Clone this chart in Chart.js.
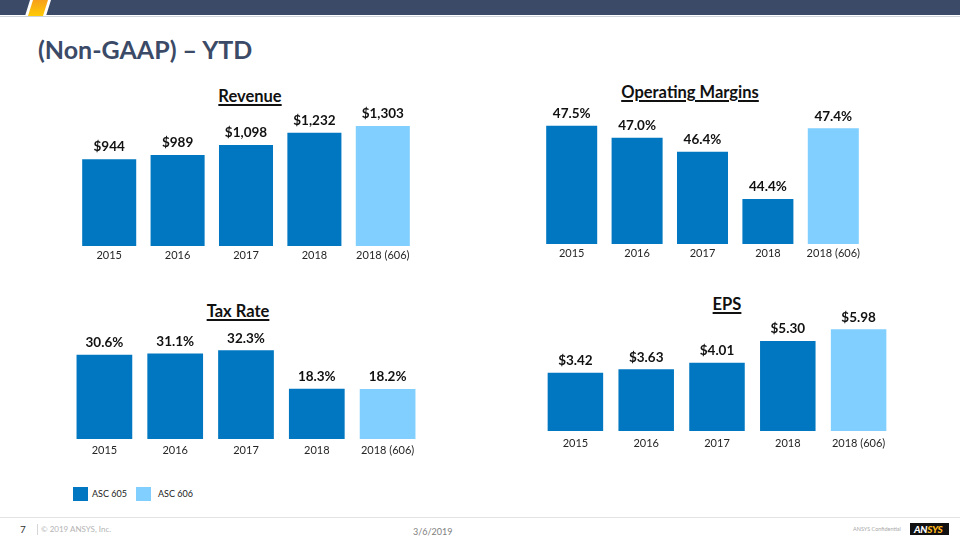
<!DOCTYPE html>
<html>
<head>
<meta charset="utf-8">
<script src="https://cdn.jsdelivr.net/npm/chart.js@4.4.1/dist/chart.umd.min.js"></script>
<style>
  html, body { margin: 0; padding: 0; background: #fff; }
  #slide { position: relative; width: 960px; height: 540px; overflow: hidden; background: #fff; font-family: Lato, "Open Sans", sans-serif; }
  .abs { position: absolute; }
  .topbar { left: 0; top: 0; width: 960px; height: 15px; background: #3B4A66; }
  .topline { left: 0; top: 16px; width: 960px; height: 1px; background: #cfd3da; }
  .gap { left: 0; top: 0; width: 960px; height: 16px; background: #fff; clip-path: polygon(30px 0, 51px 0, 46px 16px, 25px 16px); }
  .stripe { left: 0; top: 0; width: 960px; height: 16px; background: linear-gradient(to top, #FFCB05, #F6A01A); clip-path: polygon(33px 0, 48px 0, 43px 16px, 28px 16px); }
  .title { left: 38px; top: 37px; font-size: 25px; line-height: 25px; font-weight: 700; color: #3B4A66; white-space: nowrap; }
  .ctitle { font-size: 16.5px; line-height: 16px; font-weight: 700; color: #111; text-decoration: underline; text-decoration-thickness: 1.5px; text-underline-offset: 2px; white-space: nowrap; transform: translateX(-50%); }
  canvas.abs { display: block; }
  .legsq { width: 15px; height: 14px; }
  .legtx { font-size: 9px; line-height: 10px; color: #222; white-space: nowrap; }
  .footline { left: 0; top: 517px; width: 960px; height: 1px; background: #e3e3e3; }
</style>
</head>
<body>
<div id="slide">
  <div class="abs topbar"></div>
  <div class="abs topline"></div>
  <div class="abs gap"></div>
  <div class="abs stripe"></div>
  <div class="abs title">(Non-GAAP) – YTD</div>

  <div class="abs ctitle" style="left:250px; top:88px;">Revenue</div>
  <div class="abs ctitle" style="left:690px; top:84px;">Operating Margins</div>
  <div class="abs ctitle" style="left:238px; top:303px;">Tax Rate</div>
  <div class="abs ctitle" style="left:727px; top:296px;">EPS</div>

  <canvas id="cRev" class="abs" width="342" height="180" style="left:75px; top:90px;"></canvas>
  <canvas id="cOpm" class="abs" width="327" height="173" style="left:539px; top:95px;"></canvas>
  <canvas id="cTax" class="abs" width="354" height="151" style="left:69px; top:312px;"></canvas>
  <canvas id="cEps" class="abs" width="354" height="160" style="left:540px; top:295px;"></canvas>

  <div id="legend"></div>

  <div class="abs footline"></div>
  <div class="abs" style="left:20px; top:523px; font-size:10px; line-height:12px; color:#333;">7</div>
  <div class="abs" style="left:37px; top:524px; width:1px; height:11px; background:#d6d6d6;"></div>
  <div class="abs" style="left:41px; top:524px; font-size:8px; line-height:10px; color:#b4b4b4; white-space:nowrap;">© 2019 ANSYS, Inc.</div>
  <div class="abs" style="left:413px; top:526px; font-size:9px; line-height:12px; color:#808080;">3/6/2019</div>
  <div class="abs" style="left:853px; top:525px; font-size:5.5px; line-height:8px; color:#a8a8a8; white-space:nowrap;">ANSYS Confidential</div>
  <div class="abs" style="left:910px; top:523px; width:39px; height:12px; background:#111;"></div>
  <div class="abs" style="left:914px; top:523px; font-size:10px; line-height:12px; font-weight:900; font-style:italic; letter-spacing:-0.3px; white-space:nowrap;"><span style="color:#fff;">AN</span><span style="color:#FFB71B;">SYS</span></div>
</div>

<script>
// ---- data ----
const categories = ['2015', '2016', '2017', '2018', '2018 (606)'];
const standards = ['ASC 605', 'ASC 605', 'ASC 605', 'ASC 605', 'ASC 606'];
const revenue = [944, 989, 1098, 1232, 1303];
const operatingMargin = [47.5, 47.0, 46.4, 44.4, 47.4];
const taxRate = [30.6, 31.1, 32.3, 18.3, 18.2];
const eps = [3.42, 3.63, 4.01, 5.30, 5.98];
const legendItems = ['ASC 605', 'ASC 606'];

// ---- styles ----
const standardColors = { 'ASC 605': '#0077C0', 'ASC 606': '#80CFFF' };
const barColors = standards.map(s => standardColors[s]);

function valueLabelPlugin(fmt, offset) {
  return {
    id: 'valueLabels',
    afterDatasetsDraw(chart) {
      const ctx = chart.ctx;
      chart.data.datasets.forEach((ds, di) => {
        const meta = chart.getDatasetMeta(di);
        meta.data.forEach((bar, i) => {
          const v = ds.data[i];
          if (v == null) return;
          ctx.save();
          ctx.font = 'bold 13.5px Lato, "Open Sans", sans-serif';
          ctx.fillStyle = '#111';
          ctx.textAlign = 'center';
          ctx.textBaseline = 'middle';
          ctx.fillText(fmt(v), bar.x, bar.y - offset);
          ctx.restore();
        });
      });
    }
  };
}

function makeChart(id, values, opt) {
  const el = document.getElementById(id);
  return new Chart(el, {
    type: 'bar',
    data: {
      labels: categories,
      datasets: [{
        data: values,
        backgroundColor: barColors,
        borderWidth: 0,
        categoryPercentage: 1,
        barPercentage: opt.barPct
      }]
    },
    options: {
      responsive: false,
      animation: false,
      events: [],
      layout: { padding: { top: opt.padTop, left: 0, right: 0, bottom: 0 } },
      plugins: { legend: { display: false }, tooltip: { enabled: false } },
      scales: {
        x: {
          grid: { display: false, drawTicks: false },
          border: { display: false },
          ticks: {
            padding: opt.tickPad,
            color: '#262626',
            font: { family: 'Lato, "Open Sans", sans-serif', size: 11 },
            maxRotation: 0,
            autoSkip: false
          },
          afterFit: s => { s.height = 24; }
        },
        y: {
          display: false,
          min: opt.min,
          max: opt.max
        }
      }
    },
    plugins: [valueLabelPlugin(opt.fmt, opt.labelOffset)]
  });
}

const money0 = v => '$' + v.toLocaleString('en-US');
const pct1 = v => v.toFixed(1) + '%';
const money2 = v => '$' + v.toFixed(2);

makeChart('cRev', revenue, { min: 0, max: 1500, padTop: 18, tickPad: 3, barPct: 0.79, fmt: money0, labelOffset: 12.5 });
makeChart('cOpm', operatingMargin, { min: 42.5, max: 48, padTop: 19, tickPad: 3, barPct: 0.78, fmt: pct1, labelOffset: 12 });
makeChart('cTax', taxRate, { min: 0, max: 40, padTop: 17, tickPad: 5, barPct: 0.787, fmt: pct1, labelOffset: 12 });
makeChart('cEps', eps, { min: 0, max: 7, padTop: 17, tickPad: 6, barPct: 0.784, fmt: money2, labelOffset: 12 });

// legend
const leg = document.getElementById('legend');
const legPos = [{ sq: 73, tx: 92 }, { sq: 136, tx: 158 }];
legendItems.forEach((name, i) => {
  const sq = document.createElement('div');
  sq.className = 'abs legsq';
  sq.style.left = legPos[i].sq + 'px';
  sq.style.top = '487px';
  sq.style.background = standardColors[name];
  leg.appendChild(sq);
  const tx = document.createElement('div');
  tx.className = 'abs legtx';
  tx.style.left = legPos[i].tx + 'px';
  tx.style.top = '489px';
  tx.textContent = name;
  leg.appendChild(tx);
});
</script>
</body>
</html>
